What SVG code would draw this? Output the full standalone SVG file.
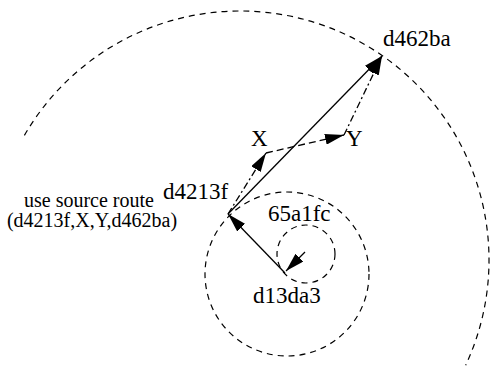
<svg xmlns="http://www.w3.org/2000/svg" width="491" height="371" viewBox="0 0 491 371">
<style>
.bg{fill:#fff}
.circ{fill:none;stroke:#000;stroke-width:1.2;stroke-dasharray:6,5}
.lbl{font-size:23px;fill:#000}
.note{font-size:20px;fill:#000}
.solid{fill:none;stroke:#000;stroke-width:1.3}
.dashdot{fill:none;stroke:#000;stroke-width:1.3;stroke-dasharray:7,3,2,3}
.dash{fill:none;stroke:#000;stroke-width:1.3;stroke-dasharray:7,4}
</style>
<defs>
<marker id="ah" markerUnits="userSpaceOnUse" markerWidth="19" markerHeight="11" refX="19" refY="5.5" orient="auto">
<path d="M0,0 L19,5.5 L0,11 z" fill="#000"/>
</marker>
</defs>
<rect class="bg" x="0" y="0" width="491" height="371"/>
<g id="ranges">
<path class="circ" d="M24.4,135.4 A249,249 0 0 1 240,11 A249,249 0 0 1 465.7,365.2"/>
<circle class="circ" cx="287" cy="274" r="82"/>
<circle class="circ" cx="306" cy="254" r="29"/>
</g>
<g id="connectors">
<line class="solid" x1="285" y1="273" x2="228" y2="214" marker-end="url(#ah)"/>
<line class="solid" x1="305" y1="252" x2="286" y2="271" marker-end="url(#ah)"/>
<line class="solid" x1="228" y1="214" x2="382" y2="56" marker-end="url(#ah)"/>
<line class="dashdot" x1="228" y1="214" x2="266" y2="153" marker-end="url(#ah)"/>
<line class="dash" x1="266" y1="153" x2="344" y2="135" marker-end="url(#ah)"/>
<line class="dashdot" x1="344" y1="135" x2="382" y2="56" marker-end="url(#ah)"/>
</g>
<g font-family="'Liberation Serif', 'Times New Roman', 'DejaVu Serif', serif">
<g id="d462ba"><text class="lbl" x="383" y="46">d462ba</text></g>
<g id="X"><text class="lbl" x="251" y="146">X</text></g>
<g id="Y"><text class="lbl" x="346" y="146">Y</text></g>
<g id="d4213f"><text class="lbl" x="163" y="199">d4213f</text></g>
<g id="65a1fc"><text class="lbl" x="268" y="221">65a1fc</text></g>
<g id="d13da3"><text class="lbl" x="253" y="303">d13da3</text></g>
<g id="note">
<text class="note" x="89" y="207" text-anchor="middle">use source route</text>
<text class="note" x="92" y="227" text-anchor="middle">(d4213f,X,Y,d462ba)</text>
</g>
</g>
</svg>
